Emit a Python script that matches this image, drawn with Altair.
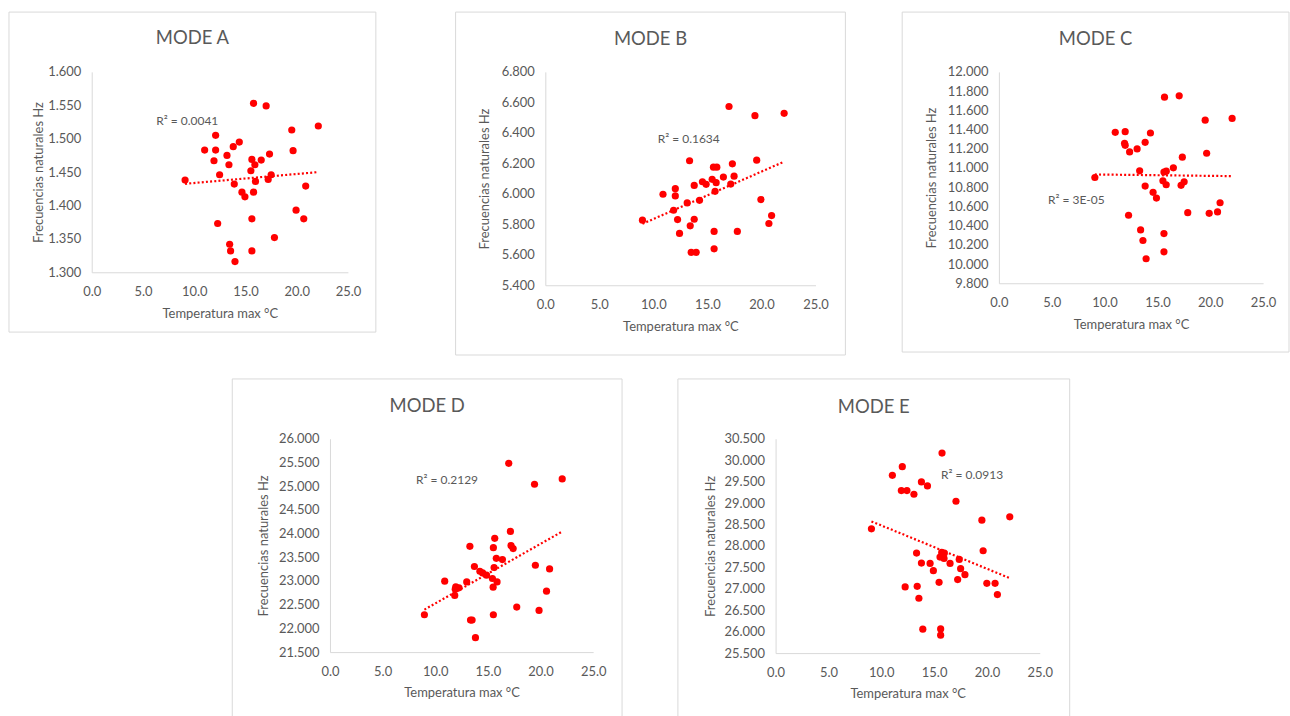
import altair as alt
import pandas as pd

FONT = "Lato"
GREY = "#595959"
RED = "#FF0000"
X_TICKS = [0, 5, 10, 15, 20, 25]

# ---- Mode A ----
temp_a = [15.79, 17.02, 22.11, 19.52, 12.09, 14.40, 13.81, 11.02, 12.09, 19.65, 13.20, 17.35, 11.93,
          15.63, 16.54, 13.39, 15.92, 15.53, 12.48, 17.51, 9.11, 17.22, 15.98, 13.91, 20.88, 14.66,
          15.79, 14.95, 19.94, 20.69, 15.63, 12.29, 17.83, 13.46, 13.55, 15.63, 13.98]
freq_a = [1.553, 1.549, 1.519, 1.513, 1.505, 1.495, 1.488, 1.483, 1.483, 1.482, 1.475, 1.477, 1.467,
          1.469, 1.468, 1.461, 1.461, 1.452, 1.446, 1.446, 1.438, 1.439, 1.436, 1.432, 1.429, 1.420,
          1.420, 1.413, 1.393, 1.380, 1.380, 1.373, 1.352, 1.342, 1.332, 1.332, 1.316]
ticks_a = [1.300, 1.350, 1.400, 1.450, 1.500, 1.550, 1.600]

# ---- Mode B ----
temp_b = [17.00, 19.40, 22.10, 13.35, 19.56, 15.56, 15.87, 17.31, 16.48, 17.47, 14.54, 14.88, 15.44,
          15.81, 17.16, 13.78, 12.03, 12.03, 10.89, 15.71, 19.95, 14.27, 13.13, 11.87, 8.99, 12.24,
          13.78, 20.94, 20.69, 13.41, 12.42, 15.62, 17.77, 13.50, 13.96, 15.62]
freq_b = [6.573, 6.513, 6.528, 6.217, 6.221, 6.175, 6.175, 6.197, 6.110, 6.116, 6.079, 6.062, 6.095,
          6.073, 6.064, 6.055, 6.034, 5.986, 5.997, 6.016, 5.962, 5.957, 5.940, 5.892, 5.827, 5.831,
          5.833, 5.857, 5.805, 5.790, 5.740, 5.753, 5.753, 5.616, 5.616, 5.639]
ticks_b = [5.4, 5.6, 5.8, 6.0, 6.2, 6.4, 6.6, 6.8]

# ---- Mode C ----
temp_c = [15.67, 17.06, 19.52, 22.07, 11.01, 11.95, 14.34, 11.89, 11.95, 13.84, 13.08, 12.37, 19.66,
          17.36, 16.51, 13.32, 15.62, 15.84, 9.08, 15.52, 15.83, 17.53, 17.24, 13.84, 14.59, 14.91,
          20.93, 12.27, 17.87, 19.90, 20.69, 13.41, 15.62, 13.63, 15.62, 13.93]
freq_c = [11.737, 11.751, 11.498, 11.516, 11.371, 11.378, 11.364, 11.257, 11.236, 11.267, 11.198,
          11.167, 11.153, 11.112, 11.001, 10.970, 10.957, 10.967, 10.901, 10.866, 10.825, 10.856,
          10.819, 10.811, 10.746, 10.687, 10.638, 10.508, 10.535, 10.528, 10.542, 10.355, 10.317,
          10.245, 10.127, 10.055]
ticks_c = [9.8, 10.0, 10.2, 10.4, 10.6, 10.8, 11.0, 11.2, 11.4, 11.6, 11.8, 12.0]

# ---- Mode D ----
temp_d = [16.98, 22.06, 19.43, 17.14, 15.65, 13.29, 15.52, 17.20, 17.40, 15.80, 16.38, 19.51, 20.86,
          13.72, 15.59, 14.24, 14.50, 14.87, 15.43, 15.87, 10.90, 12.99, 11.95, 12.25, 11.90, 15.50,
          11.85, 20.57, 17.74, 19.86, 8.97, 15.52, 13.35, 13.50, 13.82]
freq_d = [25.481, 25.153, 25.040, 24.046, 23.899, 23.731, 23.703, 23.746, 23.683, 23.479, 23.451,
          23.332, 23.255, 23.305, 23.284, 23.206, 23.170, 23.122, 23.052, 22.981, 22.996, 22.981,
          22.876, 22.855, 22.828, 22.870, 22.695, 22.786, 22.450, 22.380, 22.288, 22.288, 22.176,
          22.176, 21.805]
ticks_d = [21.5, 22.0, 22.5, 23.0, 23.5, 24.0, 24.5, 25.0, 25.5, 26.0]

# ---- Mode E ----
temp_e = [15.75, 11.99, 11.05, 13.80, 14.37, 11.90, 12.43, 13.09, 17.07, 22.16, 19.52, 9.07, 19.64,
          13.34, 15.72, 15.97, 15.56, 15.94, 17.38, 13.80, 14.62, 16.51, 17.51, 14.93, 17.92, 17.23,
          15.47, 19.99, 20.77, 12.26, 13.40, 20.99, 13.56, 13.93, 15.62, 15.62]
freq_e = [30.167, 29.849, 29.647, 29.493, 29.400, 29.291, 29.291, 29.205, 29.042, 28.679, 28.600,
          28.400, 27.888, 27.833, 27.849, 27.833, 27.740, 27.709, 27.686, 27.601, 27.593, 27.593,
          27.469, 27.423, 27.330, 27.214, 27.151, 27.128, 27.128, 27.043, 27.058, 26.865, 26.779,
          26.058, 26.065, 25.919]
ticks_e = [25.5, 26.0, 26.5, 27.0, 27.5, 28.0, 28.5, 29.0, 29.5, 30.0, 30.5]

# R² annotations (text, temperature, frequency where the label starts)
r2_labels = {
    "A": ("R² = 0.0041", 6.3, 1.527),
    "B": ("R² = 0.1634", 10.4, 6.358),
    "C": ("R² = 3E-05", 4.64, 10.669),
    "D": ("R² = 0.2129", 8.17, 25.124),
    "E": ("R² = 0.0913", 15.66, 29.663),
}


def panel(name, temps, freqs, yticks, W, H, L, R, T, B, ypad, toff):
    df = pd.DataFrame({"t": temps, "f": freqs})
    base = alt.Chart(df)
    x = alt.X("t:Q", scale=alt.Scale(domain=[0, 25], nice=False),
              axis=alt.Axis(values=X_TICKS, tickCount=len(X_TICKS), format=".1f",
                            title="Temperatura max °C", labelOverlap=False, labelFlush=False))
    y = alt.Y("f:Q", scale=alt.Scale(domain=[yticks[0], yticks[-1]], nice=False, zero=False),
              axis=alt.Axis(values=yticks, tickCount=len(yticks), format=".3f",
                            title="Frecuencias naturales Hz", titlePadding=ypad,
                            labelOverlap=False))
    pts = base.mark_circle(size=52, color=RED, opacity=1).encode(x=x, y=y)
    trend = base.transform_regression("t", "f").mark_line(
        color=RED, strokeDash=[2, 2.2], strokeWidth=2.2).encode(x="t:Q", y="f:Q")
    txt, lx, ly = r2_labels[name]
    label = alt.Chart(pd.DataFrame({"t": [lx], "f": [ly], "s": [txt]})).mark_text(
        align="left", baseline="middle", font=FONT, fontSize=12, color=GREY
    ).encode(x="t:Q", y="f:Q", text="s:N")
    frame = alt.Chart(pd.DataFrame({"k": [0]})).mark_rect(
        filled=False, color="#D9D9D9", strokeWidth=1, clip=False
    ).encode(x=alt.value(-L), x2=alt.value(W + R), y=alt.value(-T), y2=alt.value(H + B))
    return alt.layer(frame, trend, pts, label).properties(
        width=W, height=H,
        title=alt.TitleParams("MODE " + name, font=FONT, fontSize=18.5, fontWeight="normal",
                              color=GREY, anchor="middle", dx=(R - L) / 2, offset=toff),
    )


pa = panel("A", temp_a, freq_a, ticks_a, 257, 201, 83, 28, 60, 60, 2, -36)
pb = panel("B", temp_b, freq_b, ticks_b, 271, 214, 90, 30, 60, 70, 10, -37)
pc = panel("C", temp_c, freq_c, ticks_c, 265, 212, 97, 26, 60, 69, 9, -37)
pd_ = panel("D", temp_d, freq_d, ticks_d, 264, 214, 98, 29, 60, 70, 8, -37)
pe = panel("E", temp_e, freq_e, ticks_e, 265, 215, 98, 30, 60, 70, 7, -38.5)

# empty, invisible block that indents the second row (layout only)
indent = alt.Chart(pd.DataFrame({"k": [0]})).mark_rect(opacity=0).encode(
    x=alt.value(0), x2=alt.value(1), y=alt.value(0), y2=alt.value(1)
).properties(width=86, height=1)

top = alt.hconcat(alt.hconcat(pa, pb, spacing=78), pc, spacing=55)
bottom = alt.hconcat(indent, pd_, pe, spacing=54)

chart = alt.vconcat(top, bottom, spacing=22).properties(
    padding={"left": 8, "top": 10, "right": 0, "bottom": 0},
    background="white",
).configure_view(stroke=None).configure_axis(
    grid=False, ticks=False, tickSize=0, domainColor="#D9D9D9", domainWidth=1,
    labelFont=FONT, labelFontSize=13, labelColor=GREY, labelPadding=11,
    titleFont=FONT, titleFontSize=13, titleColor=GREY, titleFontWeight="normal",
    labelFlush=False, labelOverlap=False,
).configure_axisX(titlePadding=9, labelPadding=13)

chart.save("out.html", embed_options={"renderer": "svg", "actions": False})
